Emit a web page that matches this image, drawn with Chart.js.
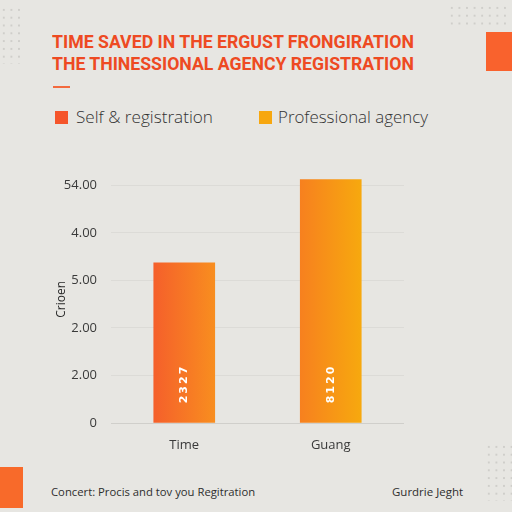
<!DOCTYPE html>
<html>
<head>
<meta charset="utf-8">
<script src="https://cdn.jsdelivr.net/npm/chart.js@4.4.1/dist/chart.umd.min.js"></script>
<style>
	html, body { margin: 0; padding: 0; }
	body { width: 512px; height: 512px; background: #e7e6e2; position: relative; overflow: hidden; font-family: "Open Sans", sans-serif; }
	.abs { position: absolute; white-space: nowrap; }
	.title { font-family: Roboto, sans-serif; font-weight: 700; font-size: 18px; line-height: 18px; color: #ee4a22; left: 52px; transform-origin: 0 50%; }
	.legend-box { width: 13px; height: 13px; }
	.legend-text { font-family: "Open Sans", sans-serif; font-weight: 300; font-size: 17px; line-height: 20px; color: #333; transform-origin: 0 50%; }
	.foot { font-family: "Open Sans", sans-serif; font-size: 11px; line-height: 14px; color: #2e2e2e; transform-origin: 0 50%; }
	.dots { background-image: radial-gradient(circle, #cfceca 1px, transparent 1.3px); background-size: 7.6px 7.8px; }
	#chart-wrap { position: absolute; left: 0; top: 154px; width: 512px; height: 306px; }
</style>
</head>
<body>
<div class="abs dots" style="left:0;top:6px;width:23px;height:58px;"></div>
<div class="abs dots" style="left:448px;top:4px;width:60px;height:24px;"></div>
<div class="abs dots" style="left:485px;top:443px;width:27px;height:58px;"></div>
<div class="abs" style="left:486px;top:32px;width:26px;height:39px;background:#f9622d;"></div>
<div class="abs" style="left:0;top:467px;width:23px;height:41px;background:#f86a2a;"></div>

<div class="abs title" id="t1" data-w="362" style="top:33px;">TIME SAVED IN THE ERGUST FRONGIRATION</div>
<div class="abs title" id="t2" data-w="362" style="top:55px;">THE THINESSIONAL AGENCY REGISTRATION</div>
<div class="abs" style="left:53px;top:86px;width:17px;height:2px;background:#f36a3e;"></div>

<div class="abs legend-box" style="left:55px;top:111px;background:#f5552b;"></div>
<div class="abs legend-text" id="l1" data-w="137" style="left:76px;top:107px;">Self &amp; registration</div>
<div class="abs legend-box" style="left:259px;top:111px;background:#f7a70f;"></div>
<div class="abs legend-text" id="l2" data-w="150" style="left:278px;top:107px;">Professional agency</div>

<div class="abs foot" id="f1" data-w="204" style="left:51px;top:485px;">Concert: Procis and tov you Regitration</div>
<div class="abs foot" id="f2" data-w="71" style="left:392px;top:485px;">Gurdrie Jeght</div>

<div id="chart-wrap"><canvas id="chart"></canvas></div>

<script>
const categories = ["Time", "Guang"];
const selfValues = [3.37, null];
const agencyValues = [null, 5.12];
const yTickLabels = ["0", "2.00", "2.00", "5.00", "4.00", "54.00"];
const barTexts = ["2327", "8120"];
const axisTitle = "Crioen";

const palette = {
	selfFrom: "#f55f2b",
	selfTo: "#f88e1f",
	agencyFrom: "#f7801f",
	agencyTo: "#f7a90e",
	grid: "#dcdbd7",
	zero: "#d0cfcb",
	text: "#3a3a3a"
};

// squeeze text blocks to the widths seen in the picture
document.querySelectorAll("[data-w]").forEach((el) => {
	const natural = el.scrollWidth;
	const target = Number(el.dataset.w);
	el.style.transform = `scaleX(${target / natural})`;
});

function barGradient(from, to) {
	return (ctx) => {
		const chart = ctx.chart;
		if (!chart.chartArea || !chart.scales.x) return from;
		const x = chart.scales.x.getPixelForValue(ctx.dataIndex);
		const g = chart.ctx.createLinearGradient(x - 31, 0, x + 31, 0);
		g.addColorStop(0, from);
		g.addColorStop(1, to);
		return g;
	};
}

const barTextPlugin = {
	id: "barText",
	afterDatasetsDraw(chart) {
		const { ctx } = chart;
		const base = chart.scales.y.getPixelForValue(0);
		chart.data.datasets.forEach((ds, di) => {
			chart.getDatasetMeta(di).data.forEach((bar, i) => {
				if (ds.data[i] == null) return;
				ctx.save();
				ctx.translate(bar.x, base - 39);
				ctx.rotate(-Math.PI / 2);
				ctx.fillStyle = "#ffffff";
				ctx.font = "bold 11px 'DejaVu Sans', sans-serif";
				ctx.textAlign = "center";
				ctx.textBaseline = "middle";
				ctx.letterSpacing = "2px";
				ctx.fillText(barTexts[i], 0, 0);
				ctx.restore();
			});
		});
	}
};

new Chart(document.getElementById("chart"), {
	type: "bar",
	data: {
		labels: categories,
		datasets: [
			{ label: "Self & registration", data: selfValues, backgroundColor: barGradient(palette.selfFrom, palette.selfTo) },
			{ label: "Professional agency", data: agencyValues, backgroundColor: barGradient(palette.agencyFrom, palette.agencyTo) }
		]
	},
	options: {
		responsive: true,
		maintainAspectRatio: false,
		animation: false,
		layout: { padding: { left: 54, right: 108, top: 0, bottom: 0 } },
		datasets: { bar: { grouped: false, barThickness: 61, borderWidth: 0 } },
		plugins: { legend: { display: false }, tooltip: { enabled: false } },
		scales: {
			x: {
				grid: { display: false },
				border: { display: false },
				ticks: { color: palette.text, font: { family: "Open Sans", size: 13 }, padding: 6 },
				afterFit: (scale) => { scale.height = 37; }
			},
			y: {
				min: 0,
				max: 5.2,
				border: { display: false },
				grid: {
					drawTicks: false,
					color: (ctx) => (ctx.tick && ctx.tick.value === 0 ? palette.zero : palette.grid)
				},
				ticks: {
					stepSize: 1,
					includeBounds: false,
					padding: 14,
					color: palette.text,
					font: { family: "Open Sans", size: 13 },
					callback: (v) => yTickLabels[v]
				},
				title: {
					display: true,
					text: axisTitle,
					color: "#2a2a2a",
					font: { family: "Open Sans", size: 12 },
					padding: 0
				},
				afterFit: (scale) => { scale.width = 57; }
			}
		}
	},
	plugins: [barTextPlugin]
});
</script>
</body>
</html>
